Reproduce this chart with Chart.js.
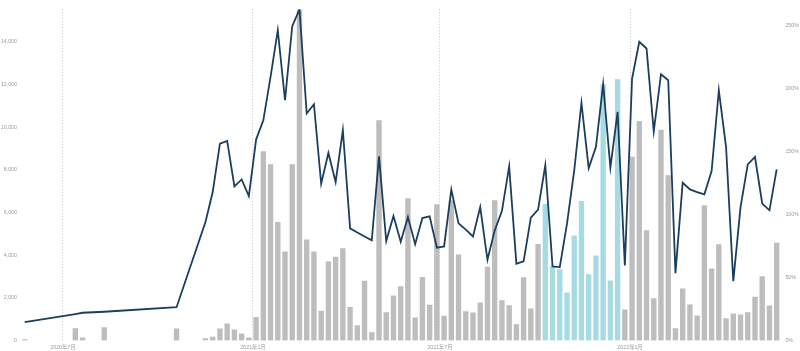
<!DOCTYPE html>
<html><head><meta charset="utf-8">
<script src="https://cdn.jsdelivr.net/npm/chart.js@4"></script>
<style>html,body{margin:0;padding:0;background:#fff}canvas{display:block}</style>
</head><body>
<canvas id="c" width="800" height="351"></canvas>
<script>
const weekDates = [
'2020-05-25','2020-07-13','2020-07-20','2020-08-10','2020-10-19',
'2020-11-16','2020-11-23','2020-11-30','2020-12-07','2020-12-14','2020-12-21','2020-12-28',
'2021-01-04','2021-01-11','2021-01-18','2021-01-25','2021-02-01','2021-02-08','2021-02-15','2021-02-22',
'2021-03-01','2021-03-08','2021-03-15','2021-03-22','2021-03-29','2021-04-05','2021-04-12','2021-04-19','2021-04-26',
'2021-05-03','2021-05-10','2021-05-17','2021-05-24','2021-05-31','2021-06-07','2021-06-14','2021-06-21','2021-06-28',
'2021-07-05','2021-07-12','2021-07-19','2021-07-26','2021-08-02','2021-08-09','2021-08-16','2021-08-23','2021-08-30',
'2021-09-06','2021-09-13','2021-09-20','2021-09-27','2021-10-04','2021-10-11','2021-10-18','2021-10-25',
'2021-11-01','2021-11-08','2021-11-15','2021-11-22','2021-11-29','2021-12-06','2021-12-13','2021-12-20','2021-12-27',
'2022-01-03','2022-01-10','2022-01-17','2022-01-24','2022-01-31','2022-02-07','2022-02-14','2022-02-21','2022-02-28',
'2022-03-07','2022-03-14','2022-03-21','2022-03-28','2022-04-04','2022-04-11','2022-04-18','2022-04-25',
'2022-05-02','2022-05-09','2022-05-16','2022-05-23'];

const volumes = [
40,560,130,610,550,
95,155,550,780,500,310,130,
1090,8850,8245,5540,4155,8245,15500,4715,
4155,1375,3685,3905,4310,1560,700,2780,375,
10305,1310,2090,2530,6650,1060,2965,1655,6370,
1140,6560,4010,1360,1295,1765,3435,6560,1875,
1640,750,2950,1485,4510,6385,3480,3325,
2235,4905,6525,3090,3965,11990,2795,12225,1435,
8590,10275,5155,1970,9855,7730,560,2420,1670,
1155,6325,3355,4500,1030,1250,1205,1310,
2030,3000,1625,4560];

const ratios = [
14.5,21.0,22.0,22.8,26.4,
93.9,117.7,156.1,158.2,122.2,127.7,114.5,
159.3,174.6,209,246,190.5,249.2,262.5,180,
187.3,124.3,148.7,125.6,166.7,88.9,85.7,82.5,79.4,
146,78.8,98.7,78.3,97.9,76.4,97.1,98.4,73.6,
74.6,119.6,92.9,87.9,82.5,105.8,64,87.3,102.6,
138.1,60.9,62.7,97.4,103.7,138.9,58.7,58.2,
92.6,134.9,188.3,136.7,153.4,203.2,137.1,181.2,59.5,
207.7,236.8,231.5,165.9,211.1,206.3,53.4,125.1,119.8,
117.7,115.9,134.4,198.4,153.4,47.1,105.8,139.7,
145.5,108.5,103.2,135.7];

const tickDates = ['2020-07-01','2021-01-01','2021-07-01','2022-01-01'];
const tickLabels = ['2020年7月','2021年1月','2021年7月','2022年1月'];
const leftTicks = [0,2000,4000,6000,8000,10000,12000,14000];
const rightTicks = [0,50,100,150,200,250];
const highlightFrom = '2021-10-11';
const highlightTo = '2021-12-20';

const day = s => { const [y,m,d] = s.split('-').map(Number); return Date.UTC(y,m-1,d)/86400000; };
const xs = weekDates.map(day);
const hf = day(highlightFrom), ht = day(highlightTo);
const barColors = xs.map(x => (x >= hf && x <= ht) ? '#a7dbe3' : '#bdbdbd');
const tickVals = tickDates.map(day);
const FONT = {family: "'Liberation Sans','Noto Sans CJK SC',sans-serif", size: 5.3};

new Chart(document.getElementById('c'), {
  type: 'bar',
  data: {
    datasets: [
      {
        type: 'line', order: 0, yAxisID: 'yR',
        data: xs.map((x,i) => ({x, y: ratios[i]})),
        borderColor: '#1b3d5e', borderWidth: 1.8, pointRadius: 0, tension: 0, fill: false
      },
      {
        type: 'bar', order: 1, yAxisID: 'yL',
        data: xs.map((x,i) => ({x, y: volumes[i]})),
        backgroundColor: barColors, barThickness: 4.7, borderWidth: 0
      }
    ]
  },
  options: {
    responsive: false, animation: false, devicePixelRatio: 1,
    layout: {padding: {top: 9.3, left: 0, right: 0, bottom: 0}},
    plugins: {legend: {display: false}, tooltip: {enabled: false}},
    scales: {
      x: {
        type: 'linear', position: 'bottom', offset: false,
        min: xs[0] - 3.6, max: xs[xs.length-1] + 3.6,
        afterBuildTicks: s => { s.ticks = tickVals.map(v => ({value: v})); },
        afterFit: s => { s.height = 10.5; },
        ticks: {
          autoSkip: false, maxRotation: 0, padding: 3.5, color: '#9a9a9a', font: FONT,
          callback: v => { const i = tickVals.indexOf(v); return i >= 0 ? tickLabels[i] : ''; }
        },
        grid: {display: true, offset: false, drawTicks: false, color: '#c4c4c4', lineWidth: 1},
        border: {display: false, dash: [1, 2]}
      },
      yL: {
        position: 'left', min: 0, max: 15520,
        afterBuildTicks: s => { s.ticks = leftTicks.map(v => ({value: v})); },
        afterFit: s => { s.width = 21; },
        ticks: {padding: 4, color: '#9a9a9a', font: FONT,
          callback: v => Number(v).toLocaleString('en-US')},
        grid: {display: false, drawTicks: false},
        border: {display: false}
      },
      yR: {
        position: 'right', min: 0, max: 262.6,
        afterBuildTicks: s => { s.ticks = rightTicks.map(v => ({value: v})); },
        afterFit: s => { s.width = 19.6; },
        ticks: {padding: 5, color: '#9a9a9a', font: FONT,
          callback: v => v + '%'},
        grid: {display: false, drawTicks: false},
        border: {display: false}
      }
    }
  }
});
</script>
</body></html>
